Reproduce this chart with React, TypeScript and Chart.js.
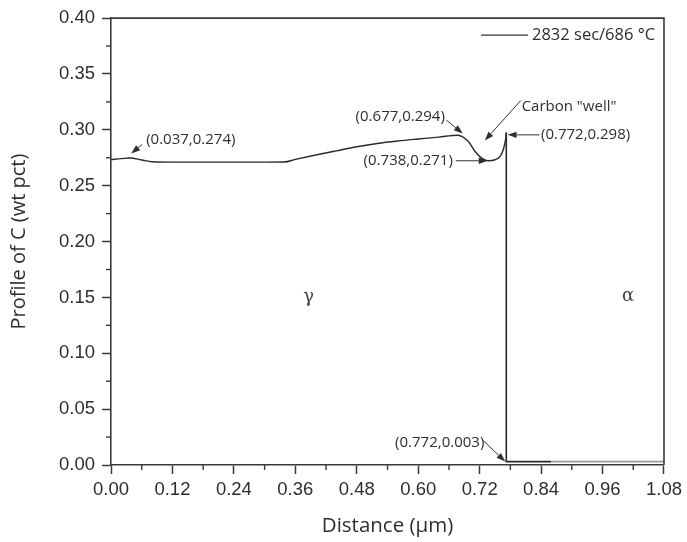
import React, { useEffect, useRef } from "react";
import { Chart, registerables } from "chart.js";

Chart.register(...registerables);

// ---- data ----
const seriesLabel = "2832 sec/686 \u00B0C";
const curveX = [0, 0.02, 0.037, 0.06, 0.08, 0.12, 0.2, 0.3, 0.338, 0.36, 0.4, 0.44, 0.48, 0.52, 0.56, 0.6, 0.64, 0.677, 0.698, 0.711, 0.724, 0.737, 0.75, 0.76, 0.766, 0.771, 0.772];
const curveY = [0.2733, 0.2742, 0.2748, 0.2730, 0.2714, 0.2711, 0.2711, 0.2711, 0.2712, 0.2735, 0.2775, 0.2812, 0.2848, 0.2878, 0.2900, 0.2918, 0.2935, 0.2952, 0.2895, 0.2806, 0.2747, 0.2723, 0.2732, 0.2762, 0.2821, 0.2925, 0.2975];
const stepX = [0.772, 0.772, 0.86, 1.08];
const stepY = [0.2975, 0.003, 0.003, 0.003];

const xTicks = [0, 0.12, 0.24, 0.36, 0.48, 0.6, 0.72, 0.84, 0.96, 1.08];
const yTicks = [0, 0.05, 0.1, 0.15, 0.2, 0.25, 0.3, 0.35, 0.4];

// annotations: text anchor and arrow in data coordinates
const annotations = [
  { text: "(0.037,0.274)", tx: 0.0687, ty: 0.2913, align: "left", ax1: 0.0609, ay1: 0.2869, ax2: 0.0395, ay2: 0.2788 },
  { text: "(0.677,0.294)", tx: 0.652, ty: 0.3118, align: "right", ax1: 0.655, ay1: 0.3087, ax2: 0.687, ay2: 0.2967 },
  { text: "Carbon \"well\"", tx: 0.802, ty: 0.3207, align: "left", ax1: 0.8, ay1: 0.3261, ax2: 0.73, ay2: 0.2904 },
  { text: "(0.772,0.298)", tx: 0.8397, ty: 0.2955, align: "left", ax1: 0.8368, ay1: 0.2955, ax2: 0.7745, ay2: 0.2955 },
  { text: "(0.738,0.271)", tx: 0.6676, ty: 0.2723, align: "right", ax1: 0.6735, ay1: 0.2723, ax2: 0.7357, ay2: 0.2723 },
  { text: "(0.772,0.003)", tx: 0.5548, ty: 0.0202, align: "left", ax1: 0.7259, ay1: 0.0223, ax2: 0.7701, ay2: 0.0031 },
];
const phaseLabels = [
  { text: "\u03B3", x: 0.386, y: 0.1497 },
  { text: "\u03B1", x: 1.01, y: 0.1506 },
];

const AXIS_COLOR = "#3a3a3a";
const TEXT_COLOR = "#2e2e2e";

function drawArrow(ctx: CanvasRenderingContext2D, x1: number, y1: number, x2: number, y2: number) {
  const ang = Math.atan2(y2 - y1, x2 - x1);
  const headLen = 9;
  const headW = 3.2;
  const bx = x2 - headLen * Math.cos(ang);
  const by = y2 - headLen * Math.sin(ang);
  ctx.beginPath();
  ctx.moveTo(x1, y1);
  ctx.lineTo(bx, by);
  ctx.stroke();
  ctx.beginPath();
  ctx.moveTo(x2, y2);
  ctx.lineTo(bx + headW * Math.sin(ang), by - headW * Math.cos(ang));
  ctx.lineTo(bx - headW * Math.sin(ang), by + headW * Math.cos(ang));
  ctx.closePath();
  ctx.fill();
}

const decorPlugin = {
  id: "decor",
  afterDatasetsDraw(chart: any) {
    const { ctx, chartArea, scales } = chart;
    const xs = scales.x;
    const ys = scales.y;
    ctx.save();
    // top & right frame
    ctx.strokeStyle = AXIS_COLOR;
    ctx.lineWidth = 1.6;
    ctx.beginPath();
    ctx.moveTo(chartArea.left, chartArea.top);
    ctx.lineTo(chartArea.right, chartArea.top);
    ctx.lineTo(chartArea.right, chartArea.bottom);
    ctx.stroke();
    // minor ticks
    ctx.lineWidth = 1.4;
    for (let i = 0; i < xTicks.length - 1; i++) {
      const v = (xTicks[i] + xTicks[i + 1]) / 2;
      const px = xs.getPixelForValue(v);
      ctx.beginPath();
      ctx.moveTo(px, chartArea.bottom);
      ctx.lineTo(px, chartArea.bottom + 5);
      ctx.stroke();
    }
    for (let i = 0; i < yTicks.length - 1; i++) {
      const v = (yTicks[i] + yTicks[i + 1]) / 2;
      const py = ys.getPixelForValue(v);
      ctx.beginPath();
      ctx.moveTo(chartArea.left, py);
      ctx.lineTo(chartArea.left - 5, py);
      ctx.stroke();
    }
    // annotations
    ctx.fillStyle = TEXT_COLOR;
    ctx.strokeStyle = "#333";
    ctx.lineWidth = 1;
    ctx.font = "15px 'Open Sans'";
    ctx.textBaseline = "middle";
    annotations.forEach((a) => {
      ctx.textAlign = a.align as CanvasTextAlign;
      ctx.fillText(a.text, xs.getPixelForValue(a.tx), ys.getPixelForValue(a.ty));
      drawArrow(ctx, xs.getPixelForValue(a.ax1), ys.getPixelForValue(a.ay1), xs.getPixelForValue(a.ax2), ys.getPixelForValue(a.ay2));
    });
    // phase labels
    ctx.font = "18px 'DejaVu Serif'";
    ctx.textAlign = "center";
    ctx.fillStyle = "#444";
    phaseLabels.forEach((p) => {
      ctx.fillText(p.text, xs.getPixelForValue(p.x), ys.getPixelForValue(p.y));
    });
    // legend
    const ly = chartArea.top + 17;
    ctx.strokeStyle = "#333";
    ctx.lineWidth = 1.4;
    ctx.beginPath();
    ctx.moveTo(chartArea.right - 183, ly);
    ctx.lineTo(chartArea.right - 136, ly);
    ctx.stroke();
    ctx.fillStyle = TEXT_COLOR;
    ctx.font = "16.5px 'Open Sans'";
    ctx.textAlign = "left";
    ctx.fillText(seriesLabel, chartArea.right - 132, ly);
    ctx.restore();
  },
};

export default function App() {
  const ref = useRef<HTMLCanvasElement | null>(null);
  useEffect(() => {
    if (!ref.current) return;
    const chart = new Chart(ref.current, {
      type: "line",
      data: {
        datasets: [
          {
            label: seriesLabel,
            data: curveX.map((x, i) => ({ x, y: curveY[i] })),
            borderColor: "#2a2a2a",
            borderWidth: 1.4,
            pointRadius: 0,
            cubicInterpolationMode: "monotone",
            fill: false,
          },
          {
            label: "step",
            data: stepX.map((x, i) => ({ x, y: stepY[i] })),
            borderColor: "#2a2a2a",
            borderWidth: 1.6,
            pointRadius: 0,
            tension: 0,
            fill: false,
            segment: {
              borderColor: (c: any) => (c.p0.parsed.x > 0.8 ? "#9a9a9a" : "#2a2a2a"),
            },
          },
        ],
      },
      options: {
        responsive: false,
        animation: false,
        layout: { padding: { top: 16, right: 19, left: 0, bottom: 0 } },
        plugins: { legend: { display: false }, tooltip: { enabled: false } },
        scales: {
          x: {
            type: "linear",
            min: 0,
            max: 1.08,
            afterFit: (s: any) => { s.height = 77; },
            afterBuildTicks: (s: any) => { s.ticks = xTicks.map((v) => ({ value: v })); },
            ticks: {
              callback: (v: any) => Number(v).toFixed(2),
              font: { family: "'Liberation Sans', Arial", size: 18.5 },
              color: TEXT_COLOR,
              padding: 5,
              maxRotation: 0,
              autoSkip: false,
            },
            grid: { drawOnChartArea: false, tickLength: 9, tickWidth: 1.5, tickColor: AXIS_COLOR },
            border: { color: AXIS_COLOR, width: 1.6 },
            title: {
              display: true,
              text: "Distance (\u03BCm)",
              font: { family: "'Open Sans'", size: 20.5 },
              color: TEXT_COLOR,
            },
          },
          y: {
            type: "linear",
            min: 0,
            max: 0.4,
            afterFit: (s: any) => { s.width = 111; },
            afterBuildTicks: (s: any) => { s.ticks = yTicks.map((v) => ({ value: v })); },
            ticks: {
              callback: (v: any) => Number(v).toFixed(2),
              font: { family: "'Liberation Sans', Arial", size: 18.5 },
              color: TEXT_COLOR,
              padding: 7,
              autoSkip: false,
            },
            grid: { drawOnChartArea: false, tickLength: 9, tickWidth: 1.5, tickColor: AXIS_COLOR },
            border: { color: AXIS_COLOR, width: 1.6 },
            title: {
              display: true,
              text: "Profile of C (wt pct)",
              font: { family: "'Open Sans'", size: 20 },
              color: TEXT_COLOR,
              padding: { top: 7, bottom: 4 },
            },
          },
        },
      },
      plugins: [decorPlugin],
    } as any);
    return () => chart.destroy();
  }, []);
  return (
    <div style={{ position: "fixed", left: 0, top: 0, width: 687, height: 542, background: "#fff" }}>
      <canvas ref={ref} width={687} height={542} style={{ width: 687, height: 542, display: "block" }} />
    </div>
  );
}
